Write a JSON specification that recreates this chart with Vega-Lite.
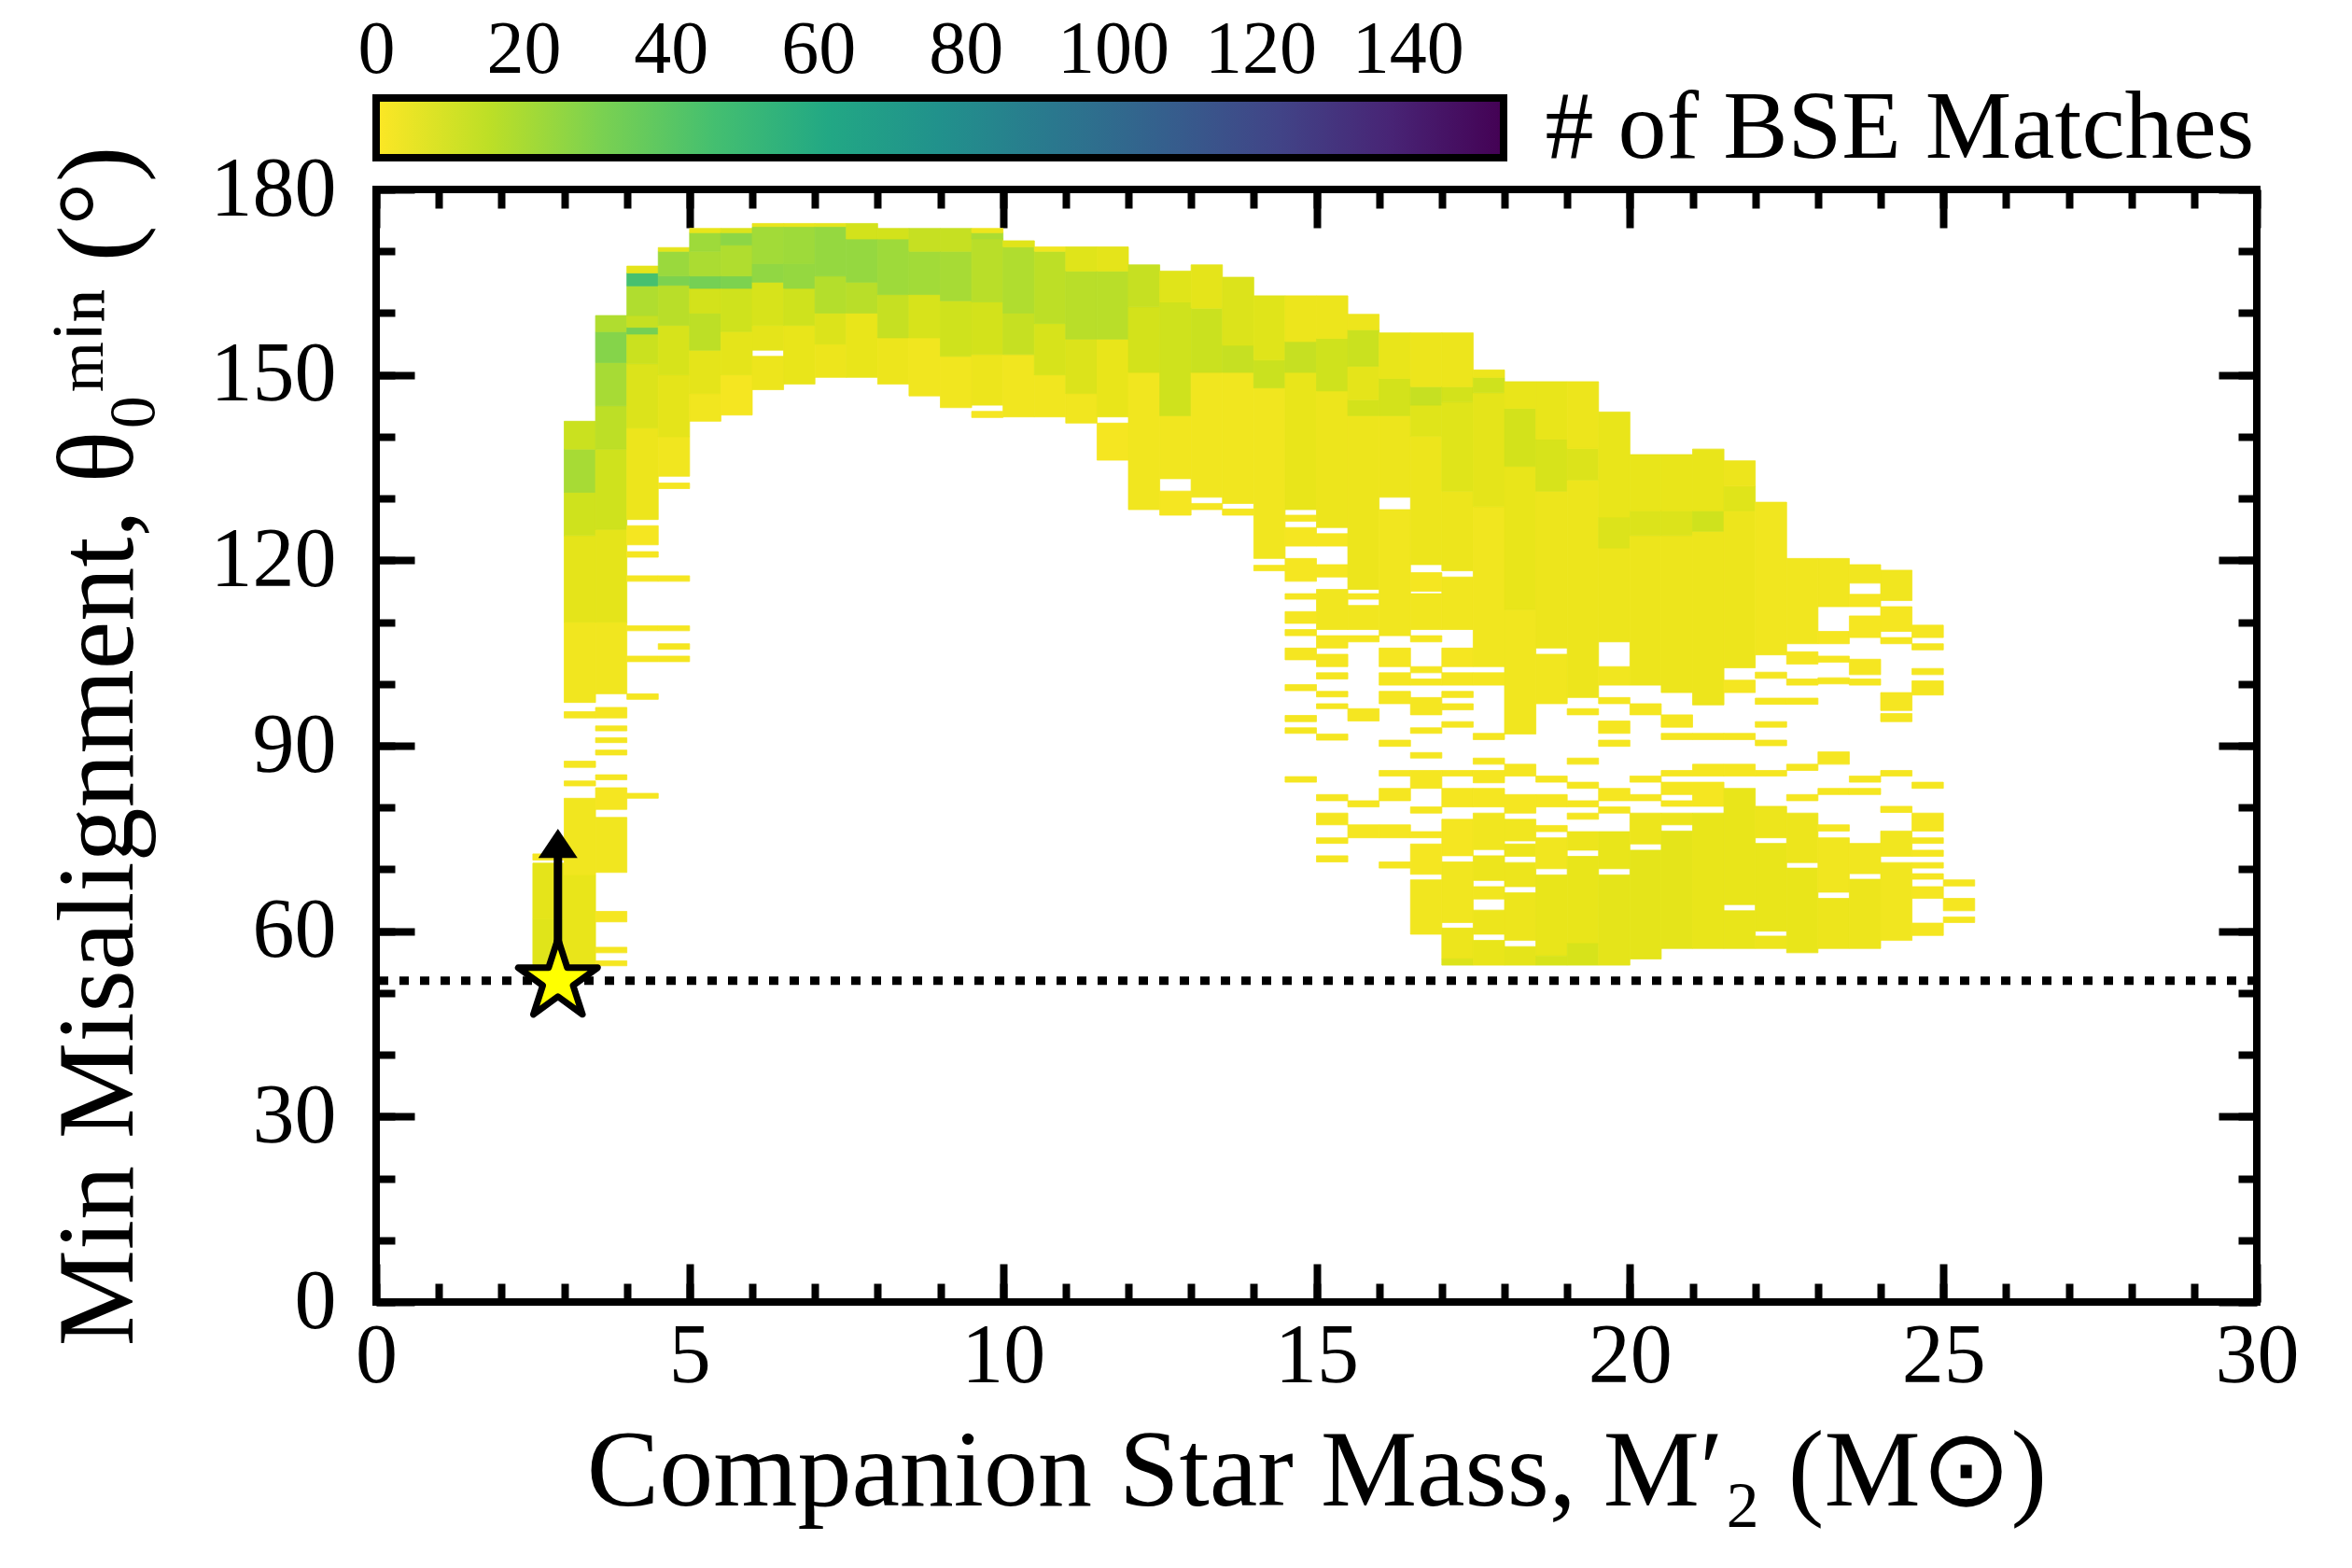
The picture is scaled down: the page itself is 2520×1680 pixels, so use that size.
{
  "$schema": "https://vega.github.io/schema/vega-lite/v6.json",
  "padding": {"left": 43, "top": 9, "right": 5, "bottom": 5},
  "background": "white",
  "config": {
    "font": "Liberation Serif",
    "view": {"stroke": "black", "strokeWidth": 8},
    "axis": {
      "grid": false, "domain": false, "zindex": 1,
      "tickColor": "black", "labelColor": "black", "titleColor": "black",
      "labelFont": "Liberation Serif", "titleFont": "Liberation Serif",
      "labelFontSize": 90, "titleFontSize": 116, "titleFontWeight": "normal",
      "labelFlush": false, "labelOverlap": false
    }
  },
  "datasets": {
    "bar": [{"c0": 0, "c1": 153}],
    "ref": [{"t": 52}],
    "marker": [{"m": 2.9, "t": 52, "shaft": 72.5, "tip": 74.2}],
    "cells": [
      {"m0":2.5,"m1":3,"t0":54.5,"t1":62,"n":7},{"m0":2.5,"m1":3,"t0":62,"t1":71,"n":6},{"m0":2.5,"m1":3,"t0":71.5,"t1":72.5,"n":2},
      {"m0":3,"m1":3.5,"t0":97,"t1":110,"n":3},{"m0":3,"m1":3.5,"t0":110,"t1":124,"n":6},{"m0":3,"m1":3.5,"t0":124,"t1":131,"n":11},{"m0":3,"m1":3.5,"t0":131,"t1":138,"n":20},{"m0":3,"m1":3.5,"t0":138,"t1":142.5,"n":12},{"m0":3,"m1":3.5,"t0":94.5,"t1":95.5,"n":2},{"m0":3,"m1":3.5,"t0":86.5,"t1":87.5,"n":2},{"m0":3,"m1":3.5,"t0":83.5,"t1":84.3,"n":2},{"m0":3,"m1":3.5,"t0":69,"t1":81.5,"n":3},{"m0":3,"m1":3.5,"t0":54.6,"t1":69,"n":5},
      {"m0":3.5,"m1":4,"t0":98.4,"t1":110,"n":3},{"m0":3.5,"m1":4,"t0":110,"t1":125,"n":6},{"m0":3.5,"m1":4,"t0":125,"t1":138,"n":11},{"m0":3.5,"m1":4,"t0":138,"t1":145,"n":15},{"m0":3.5,"m1":4,"t0":145,"t1":152,"n":20},{"m0":3.5,"m1":4,"t0":152,"t1":157,"n":28},{"m0":3.5,"m1":4,"t0":157,"t1":159.6,"n":18},{"m0":3.5,"m1":4,"t0":94.5,"t1":96.2,"n":2},{"m0":3.5,"m1":4,"t0":92.4,"t1":93.2,"n":2},{"m0":3.5,"m1":4,"t0":90.5,"t1":91.3,"n":2},{"m0":3.5,"m1":4,"t0":88.5,"t1":89.3,"n":2},{"m0":3.5,"m1":4,"t0":84.5,"t1":85.3,"n":2},{"m0":3.5,"m1":4,"t0":79.7,"t1":83.2,"n":2},{"m0":3.5,"m1":4,"t0":69.5,"t1":78.4,"n":3},{"m0":3.5,"m1":4,"t0":61.5,"t1":63.2,"n":2},{"m0":3.5,"m1":4,"t0":56.5,"t1":57.4,"n":2},{"m0":3.5,"m1":4,"t0":54.4,"t1":55.2,"n":2},
      {"m0":4,"m1":4.5,"t0":126.6,"t1":141.4,"n":4},{"m0":4,"m1":4.5,"t0":141.4,"t1":151.8,"n":8},{"m0":4,"m1":4.5,"t0":151.8,"t1":156.6,"n":12},{"m0":4,"m1":4.5,"t0":156.6,"t1":157.7,"n":32},{"m0":4,"m1":4.5,"t0":157.7,"t1":159.6,"n":13},{"m0":4,"m1":4.5,"t0":159.6,"t1":164.4,"n":18},{"m0":4,"m1":4.5,"t0":164.4,"t1":166.5,"n":45},{"m0":4,"m1":4.5,"t0":166.5,"t1":167.6,"n":6},{"m0":4,"m1":4.5,"t0":122.5,"t1":125.6,"n":2},{"m0":4,"m1":4.5,"t0":120.5,"t1":121.4,"n":2},{"m0":4,"m1":4.5,"t0":116.6,"t1":117.5,"n":2},{"m0":4,"m1":4.5,"t0":108.6,"t1":109.4,"n":2},{"m0":4,"m1":4.5,"t0":103.6,"t1":104.5,"n":2},{"m0":4,"m1":4.5,"t0":97.5,"t1":98.4,"n":2},{"m0":4,"m1":4.5,"t0":81.5,"t1":82.3,"n":2},
      {"m0":4.5,"m1":5,"t0":133.6,"t1":140,"n":3},{"m0":4.5,"m1":5,"t0":140,"t1":150,"n":6},{"m0":4.5,"m1":5,"t0":150,"t1":158,"n":9},{"m0":4.5,"m1":5,"t0":158,"t1":164.5,"n":16},{"m0":4.5,"m1":5,"t0":164.5,"t1":166,"n":30},{"m0":4.5,"m1":5,"t0":166,"t1":170,"n":23},{"m0":4.5,"m1":5,"t0":170,"t1":170.6,"n":6},{"m0":4.5,"m1":5,"t0":131.6,"t1":132.5,"n":2},{"m0":4.5,"m1":5,"t0":116.6,"t1":117.5,"n":2},{"m0":4.5,"m1":5,"t0":108.6,"t1":109.4,"n":2},{"m0":4.5,"m1":5,"t0":105.6,"t1":106.5,"n":2},{"m0":4.5,"m1":5,"t0":103.6,"t1":104.5,"n":2},
      {"m0":5,"m1":5.5,"t0":142.5,"t1":147,"n":3},{"m0":5,"m1":5.5,"t0":147,"t1":154,"n":6},{"m0":5,"m1":5.5,"t0":154,"t1":160,"n":15},{"m0":5,"m1":5.5,"t0":160,"t1":164,"n":10},{"m0":5,"m1":5.5,"t0":164,"t1":166,"n":32},{"m0":5,"m1":5.5,"t0":166,"t1":170,"n":19},{"m0":5,"m1":5.5,"t0":170,"t1":173,"n":22},{"m0":5,"m1":5.5,"t0":173,"t1":173.7,"n":5},
      {"m0":5.5,"m1":6,"t0":143.5,"t1":150,"n":2},{"m0":5.5,"m1":6,"t0":150,"t1":157,"n":6},{"m0":5.5,"m1":6,"t0":157,"t1":164,"n":11},{"m0":5.5,"m1":6,"t0":164,"t1":166,"n":30},{"m0":5.5,"m1":6,"t0":166,"t1":171,"n":18},{"m0":5.5,"m1":6,"t0":171,"t1":173,"n":26},{"m0":5.5,"m1":6,"t0":173,"t1":173.7,"n":8},
      {"m0":6,"m1":6.5,"t0":147.6,"t1":153,"n":4},{"m0":6,"m1":6.5,"t0":154,"t1":158,"n":6},{"m0":6,"m1":6.5,"t0":158,"t1":165,"n":9},{"m0":6,"m1":6.5,"t0":165,"t1":168,"n":25},{"m0":6,"m1":6.5,"t0":168,"t1":174,"n":21},{"m0":6,"m1":6.5,"t0":174,"t1":174.5,"n":5},
      {"m0":6.5,"m1":7,"t0":148.5,"t1":158,"n":5},{"m0":6.5,"m1":7,"t0":158,"t1":164,"n":11},{"m0":6.5,"m1":7,"t0":164,"t1":168,"n":24},{"m0":6.5,"m1":7,"t0":168,"t1":174,"n":22},{"m0":6.5,"m1":7,"t0":174,"t1":174.5,"n":5},
      {"m0":7,"m1":7.5,"t0":149.6,"t1":155,"n":4},{"m0":7,"m1":7.5,"t0":155,"t1":160,"n":8},{"m0":7,"m1":7.5,"t0":160,"t1":166,"n":17},{"m0":7,"m1":7.5,"t0":166,"t1":174,"n":24},{"m0":7,"m1":7.5,"t0":174,"t1":174.5,"n":6},
      {"m0":7.5,"m1":8,"t0":149.6,"t1":160,"n":5},{"m0":7.5,"m1":8,"t0":160,"t1":165,"n":16},{"m0":7.5,"m1":8,"t0":165,"t1":172,"n":24},{"m0":7.5,"m1":8,"t0":172,"t1":174.5,"n":10},
      {"m0":8,"m1":8.5,"t0":148.5,"t1":156,"n":4},{"m0":8,"m1":8.5,"t0":156,"t1":163,"n":13},{"m0":8,"m1":8.5,"t0":163,"t1":172,"n":22},{"m0":8,"m1":8.5,"t0":172,"t1":173.7,"n":10},
      {"m0":8.5,"m1":9,"t0":146.6,"t1":156,"n":3},{"m0":8.5,"m1":9,"t0":156,"t1":163,"n":9},{"m0":8.5,"m1":9,"t0":163,"t1":170,"n":21},{"m0":8.5,"m1":9,"t0":170,"t1":173.7,"n":13},
      {"m0":9,"m1":9.5,"t0":144.7,"t1":153,"n":3},{"m0":9,"m1":9.5,"t0":153,"t1":162,"n":11},{"m0":9,"m1":9.5,"t0":162,"t1":170,"n":20},{"m0":9,"m1":9.5,"t0":170,"t1":173.7,"n":13},
      {"m0":9.5,"m1":10,"t0":145.1,"t1":153.3,"n":4},{"m0":9.5,"m1":10,"t0":153.3,"t1":161.8,"n":10},{"m0":9.5,"m1":10,"t0":161.8,"t1":172,"n":16},{"m0":9.5,"m1":10,"t0":172,"t1":173,"n":19},{"m0":9.5,"m1":10,"t0":173,"t1":173.7,"n":4},{"m0":9.5,"m1":10,"t0":143.1,"t1":144.1,"n":2},
      {"m0":10,"m1":10.5,"t0":143.2,"t1":153.3,"n":3},{"m0":10,"m1":10.5,"t0":153.3,"t1":160,"n":13},{"m0":10,"m1":10.5,"t0":160,"t1":170.7,"n":18},{"m0":10,"m1":10.5,"t0":170.7,"t1":171.7,"n":7},
      {"m0":10.5,"m1":11,"t0":143.2,"t1":150,"n":3},{"m0":10.5,"m1":11,"t0":150,"t1":158.3,"n":9},{"m0":10.5,"m1":11,"t0":158.3,"t1":170,"n":15},{"m0":10.5,"m1":11,"t0":170,"t1":170.7,"n":3},
      {"m0":11,"m1":11.5,"t0":142.2,"t1":147,"n":3},{"m0":11,"m1":11.5,"t0":147,"t1":155.8,"n":8},{"m0":11,"m1":11.5,"t0":155.8,"t1":166.8,"n":16},{"m0":11,"m1":11.5,"t0":166.8,"t1":170.7,"n":7},
      {"m0":11.5,"m1":12,"t0":136.2,"t1":142.2,"n":2},{"m0":11.5,"m1":12,"t0":143.2,"t1":155.8,"n":5},{"m0":11.5,"m1":12,"t0":155.8,"t1":166.8,"n":16},{"m0":11.5,"m1":12,"t0":166.8,"t1":170.7,"n":6},
      {"m0":12,"m1":12.5,"t0":128.2,"t1":150.4,"n":3},{"m0":12,"m1":12.5,"t0":150.4,"t1":161,"n":10},{"m0":12,"m1":12.5,"t0":161,"t1":167.8,"n":13},
      {"m0":12.5,"m1":13,"t0":127.3,"t1":131.2,"n":2},{"m0":12.5,"m1":13,"t0":133.2,"t1":143.4,"n":3},{"m0":12.5,"m1":13,"t0":143.4,"t1":161.8,"n":11},{"m0":12.5,"m1":13,"t0":161.8,"t1":166.8,"n":7},
      {"m0":13,"m1":13.5,"t0":128.2,"t1":129.2,"n":2},{"m0":13,"m1":13.5,"t0":130.2,"t1":150.4,"n":3},{"m0":13,"m1":13.5,"t0":150.4,"t1":160.8,"n":12},{"m0":13,"m1":13.5,"t0":160.8,"t1":167.8,"n":6},
      {"m0":13.5,"m1":14,"t0":127.3,"t1":128.3,"n":2},{"m0":13.5,"m1":14,"t0":129.2,"t1":150.4,"n":3},{"m0":13.5,"m1":14,"t0":150.4,"t1":154.8,"n":13},{"m0":13.5,"m1":14,"t0":154.8,"t1":165.8,"n":8},
      {"m0":14,"m1":14.5,"t0":118.3,"t1":119.2,"n":2},{"m0":14,"m1":14.5,"t0":120.3,"t1":147.9,"n":3},{"m0":14,"m1":14.5,"t0":147.9,"t1":152.4,"n":12},{"m0":14,"m1":14.5,"t0":152.4,"t1":162.8,"n":7},
      {"m0":14.5,"m1":15,"t0":116.6,"t1":120.3,"n":2},{"m0":14.5,"m1":15,"t0":122.3,"t1":125.3,"n":2},{"m0":14.5,"m1":15,"t0":126.3,"t1":127.3,"n":2},{"m0":14.5,"m1":15,"t0":128.2,"t1":150.4,"n":5},{"m0":14.5,"m1":15,"t0":150.4,"t1":155.4,"n":13},{"m0":14.5,"m1":15,"t0":155.4,"t1":162.8,"n":4},{"m0":14.5,"m1":15,"t0":113.7,"t1":114.6,"n":2},{"m0":14.5,"m1":15,"t0":109.8,"t1":111.7,"n":2},{"m0":14.5,"m1":15,"t0":107.8,"t1":108.8,"n":2},{"m0":14.5,"m1":15,"t0":103.9,"t1":105.8,"n":2},{"m0":14.5,"m1":15,"t0":98.9,"t1":99.9,"n":2},{"m0":14.5,"m1":15,"t0":93.9,"t1":94.9,"n":2},{"m0":14.5,"m1":15,"t0":92,"t1":92.9,"n":2},{"m0":14.5,"m1":15,"t0":84.1,"t1":85,"n":2},
      {"m0":15,"m1":15.5,"t0":117.3,"t1":119.3,"n":2},{"m0":15,"m1":15.5,"t0":122.3,"t1":124.3,"n":2},{"m0":15,"m1":15.5,"t0":125.3,"t1":147.4,"n":4},{"m0":15,"m1":15.5,"t0":147.4,"t1":155.9,"n":11},{"m0":15,"m1":15.5,"t0":155.9,"t1":162.8,"n":4},{"m0":15,"m1":15.5,"t0":108.8,"t1":115.3,"n":3},{"m0":15,"m1":15.5,"t0":105.8,"t1":107.8,"n":2},{"m0":15,"m1":15.5,"t0":102.8,"t1":104.8,"n":2},{"m0":15,"m1":15.5,"t0":100.8,"t1":101.8,"n":2},{"m0":15,"m1":15.5,"t0":97.9,"t1":98.8,"n":2},{"m0":15,"m1":15.5,"t0":96,"t1":96.8,"n":2},{"m0":15,"m1":15.5,"t0":90.9,"t1":91.9,"n":2},{"m0":15,"m1":15.5,"t0":81.1,"t1":82.1,"n":2},{"m0":15,"m1":15.5,"t0":77.2,"t1":79.1,"n":2},{"m0":15,"m1":15.5,"t0":74.2,"t1":75.1,"n":2},{"m0":15,"m1":15.5,"t0":71.2,"t1":72.2,"n":2},
      {"m0":15.5,"m1":16,"t0":115.3,"t1":143.4,"n":4},{"m0":15.5,"m1":16,"t0":143.4,"t1":146,"n":10},{"m0":15.5,"m1":16,"t0":146,"t1":151.4,"n":6},{"m0":15.5,"m1":16,"t0":151.4,"t1":157.3,"n":12},{"m0":15.5,"m1":16,"t0":157.3,"t1":159.8,"n":4},{"m0":15.5,"m1":16,"t0":108.8,"t1":112.7,"n":3},{"m0":15.5,"m1":16,"t0":113.7,"t1":114.6,"n":2},{"m0":15.5,"m1":16,"t0":106.8,"t1":107.8,"n":2},{"m0":15.5,"m1":16,"t0":94,"t1":96,"n":2},{"m0":15.5,"m1":16,"t0":80.1,"t1":81.1,"n":2},{"m0":15.5,"m1":16,"t0":75.1,"t1":77.2,"n":2},
      {"m0":16,"m1":16.5,"t0":107.8,"t1":128.2,"n":3},{"m0":16,"m1":16.5,"t0":130.2,"t1":143.4,"n":4},{"m0":16,"m1":16.5,"t0":143.4,"t1":149.4,"n":10},{"m0":16,"m1":16.5,"t0":149.4,"t1":156.8,"n":5},{"m0":16,"m1":16.5,"t0":102.8,"t1":105.8,"n":2},{"m0":16,"m1":16.5,"t0":99.8,"t1":101.8,"n":2},{"m0":16,"m1":16.5,"t0":96.8,"t1":98.8,"n":2},{"m0":16,"m1":16.5,"t0":89.9,"t1":90.9,"n":2},{"m0":16,"m1":16.5,"t0":85.1,"t1":86,"n":2},{"m0":16,"m1":16.5,"t0":81.1,"t1":83.1,"n":2},{"m0":16,"m1":16.5,"t0":75.1,"t1":77.2,"n":2},{"m0":16,"m1":16.5,"t0":70.2,"t1":71.2,"n":2},
      {"m0":16.5,"m1":17,"t0":119.3,"t1":140.1,"n":4},{"m0":16.5,"m1":17,"t0":140.1,"t1":145.1,"n":7},{"m0":16.5,"m1":17,"t0":145.1,"t1":148.1,"n":13},{"m0":16.5,"m1":17,"t0":148.1,"t1":156.8,"n":4},{"m0":16.5,"m1":17,"t0":115,"t1":118,"n":2},{"m0":16.5,"m1":17,"t0":108.8,"t1":114.6,"n":3},{"m0":16.5,"m1":17,"t0":106.8,"t1":107.8,"n":2},{"m0":16.5,"m1":17,"t0":101.8,"t1":102.8,"n":2},{"m0":16.5,"m1":17,"t0":99.8,"t1":100.8,"n":2},{"m0":16.5,"m1":17,"t0":95,"t1":97.8,"n":2},{"m0":16.5,"m1":17,"t0":92,"t1":92.9,"n":2},{"m0":16.5,"m1":17,"t0":88,"t1":88.9,"n":2},{"m0":16.5,"m1":17,"t0":83.1,"t1":86,"n":2},{"m0":16.5,"m1":17,"t0":79.1,"t1":80.1,"n":2},{"m0":16.5,"m1":17,"t0":75.1,"t1":76.1,"n":2},{"m0":16.5,"m1":17,"t0":69.2,"t1":74.1,"n":2},{"m0":16.5,"m1":17,"t0":59.5,"t1":68.3,"n":3},
      {"m0":17,"m1":17.5,"t0":118.3,"t1":131.2,"n":4},{"m0":17,"m1":17.5,"t0":131.2,"t1":145.6,"n":7},{"m0":17,"m1":17.5,"t0":145.6,"t1":148.1,"n":10},{"m0":17,"m1":17.5,"t0":148.1,"t1":156.8,"n":4},{"m0":17,"m1":17.5,"t0":108.8,"t1":117.3,"n":3},{"m0":17,"m1":17.5,"t0":102.8,"t1":105.8,"n":2},{"m0":17,"m1":17.5,"t0":99.8,"t1":101.8,"n":2},{"m0":17,"m1":17.5,"t0":97.8,"t1":98.8,"n":2},{"m0":17,"m1":17.5,"t0":95.8,"t1":96.8,"n":2},{"m0":17,"m1":17.5,"t0":93,"t1":93.9,"n":2},{"m0":17,"m1":17.5,"t0":85.1,"t1":86,"n":2},{"m0":17,"m1":17.5,"t0":80.1,"t1":83.1,"n":2},{"m0":17,"m1":17.5,"t0":72.2,"t1":78.1,"n":2},{"m0":17,"m1":17.5,"t0":61.4,"t1":71.2,"n":3},{"m0":17,"m1":17.5,"t0":55.5,"t1":60.5,"n":4},{"m0":17,"m1":17.5,"t0":54.5,"t1":55.5,"n":8},
      {"m0":17.5,"m1":18,"t0":102.8,"t1":128.7,"n":3},{"m0":17.5,"m1":18,"t0":128.7,"t1":147.1,"n":6},{"m0":17.5,"m1":18,"t0":147.1,"t1":149.6,"n":11},{"m0":17.5,"m1":18,"t0":149.6,"t1":150.8,"n":4},{"m0":17.5,"m1":18,"t0":99.8,"t1":101.8,"n":2},{"m0":17.5,"m1":18,"t0":91,"t1":92,"n":2},{"m0":17.5,"m1":18,"t0":87,"t1":88,"n":2},{"m0":17.5,"m1":18,"t0":84,"t1":86,"n":2},{"m0":17.5,"m1":18,"t0":80.1,"t1":83.1,"n":2},{"m0":17.5,"m1":18,"t0":73.2,"t1":79.1,"n":3},{"m0":17.5,"m1":18,"t0":68.2,"t1":72.2,"n":4},{"m0":17.5,"m1":18,"t0":65.2,"t1":67.2,"n":3},{"m0":17.5,"m1":18,"t0":59.5,"t1":63.4,"n":4},{"m0":17.5,"m1":18,"t0":54.5,"t1":58.5,"n":5},
      {"m0":18,"m1":18.5,"t0":91.9,"t1":112,"n":3},{"m0":18,"m1":18.5,"t0":112,"t1":135.2,"n":5},{"m0":18,"m1":18.5,"t0":135.2,"t1":144.6,"n":10},{"m0":18,"m1":18.5,"t0":144.6,"t1":148.9,"n":5},{"m0":18,"m1":18.5,"t0":85.1,"t1":87,"n":2},{"m0":18,"m1":18.5,"t0":79.1,"t1":82.1,"n":2},{"m0":18,"m1":18.5,"t0":74.6,"t1":78.1,"n":3},{"m0":18,"m1":18.5,"t0":72.1,"t1":74.1,"n":4},{"m0":18,"m1":18.5,"t0":67.2,"t1":71.1,"n":4},{"m0":18,"m1":18.5,"t0":58.5,"t1":66.2,"n":4},{"m0":18,"m1":18.5,"t0":54.5,"t1":57.5,"n":6},
      {"m0":18.5,"m1":19,"t0":96.8,"t1":104.8,"n":3},{"m0":18.5,"m1":19,"t0":105.8,"t1":131.2,"n":4},{"m0":18.5,"m1":19,"t0":131.2,"t1":139.6,"n":9},{"m0":18.5,"m1":19,"t0":139.6,"t1":148.9,"n":5},{"m0":18.5,"m1":19,"t0":84.1,"t1":85.1,"n":2},{"m0":18.5,"m1":19,"t0":80.1,"t1":82.1,"n":2},{"m0":18.5,"m1":19,"t0":76.1,"t1":77.1,"n":2},{"m0":18.5,"m1":19,"t0":70.1,"t1":75.1,"n":3},{"m0":18.5,"m1":19,"t0":56,"t1":69.1,"n":5},{"m0":18.5,"m1":19,"t0":54.5,"t1":56,"n":9},
      {"m0":19,"m1":19.5,"t0":97.8,"t1":133,"n":4},{"m0":19,"m1":19.5,"t0":133,"t1":138.1,"n":8},{"m0":19,"m1":19.5,"t0":138.1,"t1":148.9,"n":4},{"m0":19,"m1":19.5,"t0":95,"t1":96,"n":2},{"m0":19,"m1":19.5,"t0":87,"t1":88,"n":2},{"m0":19,"m1":19.5,"t0":83.1,"t1":84.1,"n":2},{"m0":19,"m1":19.5,"t0":80.1,"t1":81.1,"n":2},{"m0":19,"m1":19.5,"t0":78.1,"t1":79.1,"n":2},{"m0":19,"m1":19.5,"t0":73.1,"t1":76.1,"n":4},{"m0":19,"m1":19.5,"t0":58,"t1":72.1,"n":5},{"m0":19,"m1":19.5,"t0":54.5,"t1":58,"n":9},
      {"m0":19.5,"m1":20,"t0":106.8,"t1":122,"n":4},{"m0":19.5,"m1":20,"t0":122,"t1":127,"n":8},{"m0":19.5,"m1":20,"t0":127,"t1":144,"n":5},{"m0":19.5,"m1":20,"t0":99.8,"t1":102.8,"n":3},{"m0":19.5,"m1":20,"t0":96.8,"t1":97.8,"n":2},{"m0":19.5,"m1":20,"t0":92,"t1":94,"n":2},{"m0":19.5,"m1":20,"t0":89.9,"t1":90.9,"n":2},{"m0":19.5,"m1":20,"t0":81.1,"t1":83.1,"n":2},{"m0":19.5,"m1":20,"t0":79.1,"t1":80.1,"n":2},{"m0":19.5,"m1":20,"t0":70.1,"t1":76.1,"n":5},{"m0":19.5,"m1":20,"t0":54.5,"t1":69.1,"n":6},
      {"m0":20,"m1":20.5,"t0":99.8,"t1":124,"n":4},{"m0":20,"m1":20.5,"t0":124,"t1":128,"n":8},{"m0":20,"m1":20.5,"t0":128,"t1":137.1,"n":5},{"m0":20,"m1":20.5,"t0":95,"t1":96.8,"n":2},{"m0":20,"m1":20.5,"t0":84.1,"t1":85.1,"n":2},{"m0":20,"m1":20.5,"t0":81.1,"t1":82.1,"n":2},{"m0":20,"m1":20.5,"t0":74.1,"t1":79.1,"n":4},{"m0":20,"m1":20.5,"t0":55.5,"t1":73.1,"n":6},
      {"m0":20.5,"m1":21,"t0":98.6,"t1":124,"n":4},{"m0":20.5,"m1":21,"t0":124,"t1":128,"n":8},{"m0":20.5,"m1":21,"t0":128,"t1":137.1,"n":5},{"m0":20.5,"m1":21,"t0":93,"t1":95,"n":2},{"m0":20.5,"m1":21,"t0":91,"t1":92,"n":2},{"m0":20.5,"m1":21,"t0":85.1,"t1":86,"n":2},{"m0":20.5,"m1":21,"t0":82.1,"t1":84.1,"n":2},{"m0":20.5,"m1":21,"t0":80.2,"t1":81.1,"n":2},{"m0":20.5,"m1":21,"t0":77.2,"t1":79.1,"n":4},{"m0":20.5,"m1":21,"t0":57.2,"t1":76.2,"n":6},
      {"m0":21,"m1":21.5,"t0":96.6,"t1":124.7,"n":4},{"m0":21,"m1":21.5,"t0":124.7,"t1":128,"n":11},{"m0":21,"m1":21.5,"t0":128,"t1":138,"n":5},{"m0":21,"m1":21.5,"t0":91,"t1":92,"n":2},{"m0":21,"m1":21.5,"t0":85.1,"t1":87,"n":2},{"m0":21,"m1":21.5,"t0":80.2,"t1":84.1,"n":2},{"m0":21,"m1":21.5,"t0":57.2,"t1":79.1,"n":5},
      {"m0":21.5,"m1":22,"t0":102.6,"t1":128,"n":4},{"m0":21.5,"m1":22,"t0":128,"t1":132,"n":7},{"m0":21.5,"m1":22,"t0":132,"t1":136.1,"n":4},{"m0":21.5,"m1":22,"t0":98.6,"t1":100.6,"n":2},{"m0":21.5,"m1":22,"t0":91,"t1":92,"n":2},{"m0":21.5,"m1":22,"t0":85.1,"t1":87,"n":2},{"m0":21.5,"m1":22,"t0":64.3,"t1":83.1,"n":5},{"m0":21.5,"m1":22,"t0":57.2,"t1":63.3,"n":5},
      {"m0":22,"m1":22.5,"t0":104.7,"t1":129.4,"n":3},{"m0":22,"m1":22.5,"t0":100.9,"t1":101.9,"n":2},{"m0":22,"m1":22.5,"t0":96.7,"t1":97.7,"n":2},{"m0":22,"m1":22.5,"t0":93,"t1":93.9,"n":2},{"m0":22,"m1":22.5,"t0":90,"t1":90.9,"n":2},{"m0":22,"m1":22.5,"t0":85.1,"t1":86,"n":2},{"m0":22,"m1":22.5,"t0":75.1,"t1":80.2,"n":4},{"m0":22,"m1":22.5,"t0":60,"t1":74.2,"n":5},{"m0":22,"m1":22.5,"t0":57.2,"t1":59.2,"n":4},
      {"m0":22.5,"m1":23,"t0":106.5,"t1":120.3,"n":3},{"m0":22.5,"m1":23,"t0":103.2,"t1":105.2,"n":2},{"m0":22.5,"m1":23,"t0":99.8,"t1":100.8,"n":2},{"m0":22.5,"m1":23,"t0":96.7,"t1":97.7,"n":2},{"m0":22.5,"m1":23,"t0":86,"t1":87,"n":2},{"m0":22.5,"m1":23,"t0":81.1,"t1":82.1,"n":2},{"m0":22.5,"m1":23,"t0":71.1,"t1":79.1,"n":4},{"m0":22.5,"m1":23,"t0":56.5,"t1":70.2,"n":5},
      {"m0":23,"m1":23.5,"t0":112.5,"t1":120.3,"n":3},{"m0":23,"m1":23.5,"t0":106.5,"t1":108.5,"n":2},{"m0":23,"m1":23.5,"t0":103.5,"t1":104.5,"n":2},{"m0":23,"m1":23.5,"t0":100,"t1":101,"n":2},{"m0":23,"m1":23.5,"t0":87,"t1":89,"n":2},{"m0":23,"m1":23.5,"t0":82.1,"t1":83.1,"n":2},{"m0":23,"m1":23.5,"t0":76.2,"t1":77.2,"n":2},{"m0":23,"m1":23.5,"t0":66.3,"t1":75.1,"n":3},{"m0":23,"m1":23.5,"t0":57.2,"t1":65.3,"n":4},
      {"m0":23.5,"m1":24,"t0":116.3,"t1":119.3,"n":3},{"m0":23.5,"m1":24,"t0":112.5,"t1":114.5,"n":2},{"m0":23.5,"m1":24,"t0":107.5,"t1":111,"n":2},{"m0":23.5,"m1":24,"t0":101.5,"t1":104,"n":2},{"m0":23.5,"m1":24,"t0":99.8,"t1":100.8,"n":2},{"m0":23.5,"m1":24,"t0":84.1,"t1":85.1,"n":2},{"m0":23.5,"m1":24,"t0":82.1,"t1":83.1,"n":2},{"m0":23.5,"m1":24,"t0":69.3,"t1":74.2,"n":3},{"m0":23.5,"m1":24,"t0":57.2,"t1":68.4,"n":4},
      {"m0":24,"m1":24.5,"t0":113.5,"t1":118.4,"n":3},{"m0":24,"m1":24.5,"t0":108.5,"t1":112.5,"n":2},{"m0":24,"m1":24.5,"t0":106.5,"t1":107.5,"n":2},{"m0":24,"m1":24.5,"t0":95.7,"t1":98.6,"n":2},{"m0":24,"m1":24.5,"t0":93.9,"t1":95.2,"n":2},{"m0":24,"m1":24.5,"t0":85.1,"t1":86,"n":2},{"m0":24,"m1":24.5,"t0":79.2,"t1":80.2,"n":2},{"m0":24,"m1":24.5,"t0":72.1,"t1":76.2,"n":3},{"m0":24,"m1":24.5,"t0":58.5,"t1":71.1,"n":3},
      {"m0":24.5,"m1":25,"t0":107.5,"t1":109.5,"n":2},{"m0":24.5,"m1":25,"t0":105.5,"t1":106.5,"n":2},{"m0":24.5,"m1":25,"t0":101.5,"t1":102.5,"n":2},{"m0":24.5,"m1":25,"t0":98.2,"t1":100.5,"n":2},{"m0":24.5,"m1":25,"t0":83.1,"t1":84.1,"n":2},{"m0":24.5,"m1":25,"t0":76.2,"t1":79.1,"n":2},{"m0":24.5,"m1":25,"t0":74.2,"t1":75.1,"n":2},{"m0":24.5,"m1":25,"t0":72.1,"t1":73.1,"n":2},{"m0":24.5,"m1":25,"t0":70.2,"t1":71.1,"n":2},{"m0":24.5,"m1":25,"t0":68.4,"t1":69.3,"n":2},{"m0":24.5,"m1":25,"t0":65.3,"t1":67.2,"n":2},{"m0":24.5,"m1":25,"t0":59.3,"t1":61.3,"n":2},
      {"m0":25,"m1":25.5,"t0":67.3,"t1":68.3,"n":2},{"m0":25,"m1":25.5,"t0":63.3,"t1":65.3,"n":2},{"m0":25,"m1":25.5,"t0":61.4,"t1":62.3,"n":2}
    ]
  },
  "bounds": "flush",
  "spacing": 34,
  "vconcat": [
    {
      "width": 1208,
      "height": 64,
      "data": {"name": "bar"},
      "mark": {
        "type": "rect",
        "stroke": "black",
        "strokeWidth": 8,
        "fill": {
          "gradient": "linear", "x1": 0, "y1": 0, "x2": 1, "y2": 0,
          "stops": [
            {"offset": 0, "color": "#fde725"},
            {"offset": 0.1, "color": "#bddf26"},
            {"offset": 0.2, "color": "#7ad151"},
            {"offset": 0.3, "color": "#44bf70"},
            {"offset": 0.4, "color": "#22a884"},
            {"offset": 0.5, "color": "#21918c"},
            {"offset": 0.6, "color": "#2a788e"},
            {"offset": 0.7, "color": "#355f8d"},
            {"offset": 0.8, "color": "#414487"},
            {"offset": 0.9, "color": "#482475"},
            {"offset": 1, "color": "#440154"}
          ]
        }
      },
      "encoding": {
        "x": {
          "field": "c0", "type": "quantitative",
          "scale": {"domain": [0, 153], "nice": false, "zero": false},
          "axis": {"orient": "top", "values": [0, 20, 40, 60, 80, 100, 120, 140], "tickSize": -40, "tickWidth": 5, "labelFontSize": 80, "labelPadding": 51, "title": null}
        },
        "x2": {"field": "c1"},
        "y": {
          "datum": 0, "type": "quantitative",
          "scale": {"domain": [0, 1], "nice": false},
          "axis": {"orient": "right", "ticks": false, "labels": false, "title": "# of BSE Matches", "titleAngle": 0, "titleAlign": "left", "titleBaseline": "middle", "titleFontSize": 104, "titlePadding": 44}
        },
        "y2": {"datum": 1}
      }
    },
    {
      "width": 2015,
      "height": 1192,
      "resolve": {"axis": {"x": "independent", "y": "independent"}},
      "layer": [
        {
          "data": {"name": "cells"},
          "mark": {"type": "rect", "strokeWidth": 0.8},
          "encoding": {
            "x": {
              "field": "m0", "type": "quantitative",
              "scale": {"domain": [0, 30], "nice": false, "zero": false},
              "axis": {"orient": "bottom", "values": [0, 5, 10, 15, 20, 25, 30], "tickSize": -41, "tickWidth": 8, "labelPadding": 55, "title": "Companion Star Mass,  M′₂ (M⊙)", "titlePadding": 22}
            },
            "x2": {"field": "m1"},
            "y": {
              "field": "t0", "type": "quantitative",
              "scale": {"domain": [0, 180], "nice": false, "zero": false},
              "axis": {"orient": "left", "values": [0, 30, 60, 90, 120, 150, 180], "tickSize": -41, "tickWidth": 8, "labelPadding": 84, "title": "Min Misalignment,  θ₀ᵐⁱⁿ (°)", "titlePadding": 60}
            },
            "y2": {"field": "t1"},
            "color": {"field": "n", "type": "quantitative", "scale": {"scheme": "viridis", "reverse": true, "domain": [0, 153]}, "legend": null},
            "stroke": {"field": "n", "type": "quantitative", "scale": {"scheme": "viridis", "reverse": true, "domain": [0, 153]}, "legend": null}
          }
        },
        {
          "data": {"name": "ref"},
          "mark": {"type": "rule", "color": "black", "strokeWidth": 9, "strokeDash": [10, 12]},
          "encoding": {
            "y": {"field": "t", "type": "quantitative", "scale": {"domain": [0, 180], "nice": false, "zero": false}, "axis": null}
          }
        },
        {
          "data": {"name": "marker"},
          "mark": {"type": "rule", "color": "black", "strokeWidth": 9},
          "encoding": {
            "x": {
              "field": "m", "type": "quantitative",
              "scale": {"domain": [0, 30], "nice": false, "zero": false},
              "axis": {"orient": "top", "values": [0, 5, 10, 15, 20, 25, 30], "tickSize": -41, "tickWidth": 8, "labels": false, "title": null}
            },
            "y": {
              "field": "t", "type": "quantitative",
              "scale": {"domain": [0, 180], "nice": false, "zero": false},
              "axis": {"orient": "right", "values": [0, 30, 60, 90, 120, 150, 180], "tickSize": -41, "tickWidth": 8, "labels": false, "title": null}
            },
            "y2": {"field": "shaft"}
          }
        },
        {
          "data": {"name": "marker"},
          "mark": {"type": "point", "shape": "M0,-0.74L1,0.74L-1,0.74Z", "filled": true, "color": "black", "opacity": 1, "size": 1764},
          "encoding": {
            "x": {
              "field": "m", "type": "quantitative",
              "scale": {"domain": [0, 30], "nice": false, "zero": false},
              "axis": {"orient": "top", "values": [0,1,2,3,4,5,6,7,8,9,10,11,12,13,14,15,16,17,18,19,20,21,22,23,24,25,26,27,28,29,30], "tickSize": -20, "tickWidth": 8, "labels": false, "title": null}
            },
            "y": {
              "field": "tip", "type": "quantitative",
              "scale": {"domain": [0, 180], "nice": false, "zero": false},
              "axis": {"orient": "right", "values": [0,10,20,30,40,50,60,70,80,90,100,110,120,130,140,150,160,170,180], "tickSize": -20, "tickWidth": 8, "labels": false, "title": null}
            }
          }
        },
        {
          "data": {"name": "marker"},
          "mark": {"type": "point", "shape": "M0,-1L0.2245,-0.309L0.951,-0.309L0.363,0.118L0.588,0.809L0,0.382L-0.588,0.809L-0.363,0.118L-0.951,-0.309L-0.2245,-0.309Z", "filled": true, "fill": "#ffff00", "stroke": "black", "strokeWidth": 7, "strokeJoin": "round", "opacity": 1, "size": 8000},
          "encoding": {
            "x": {
              "field": "m", "type": "quantitative",
              "scale": {"domain": [0, 30], "nice": false, "zero": false},
              "axis": {"orient": "bottom", "values": [0,1,2,3,4,5,6,7,8,9,10,11,12,13,14,15,16,17,18,19,20,21,22,23,24,25,26,27,28,29,30], "tickSize": -20, "tickWidth": 8, "labels": false, "title": null}
            },
            "y": {
              "field": "t", "type": "quantitative",
              "scale": {"domain": [0, 180], "nice": false, "zero": false},
              "axis": {"orient": "left", "values": [0,10,20,30,40,50,60,70,80,90,100,110,120,130,140,150,160,170,180], "tickSize": -20, "tickWidth": 8, "labels": false, "title": null}
            }
          }
        }
      ]
    }
  ]
}
